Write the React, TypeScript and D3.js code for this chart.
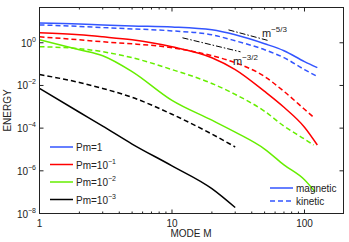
import * as d3 from "d3";

// spectra (mode m, energy)
const modes = [1, 2, 3, 5, 10, 20, 30, 50, 70, 100, 125];
const modesRedKin = [1, 2, 3, 5, 10, 20, 30, 50, 70, 100, 117];
const modesGreen = [1, 2, 3, 5, 10, 20, 30, 50, 70, 100, 120];
const modesGreenKin = [1, 2, 3, 5, 10, 20, 30, 50, 70, 100, 117];
const modesBlack = [1, 2, 3, 5, 10, 20, 30];

const blueMag = [8.5, 7.66, 6.87, 6.18, 5.55, 4.03, 2.36, 0.9, 0.425, 0.131, 0.0687];
const blueKin = [6.87, 5.85, 5.15, 4.48, 3.61, 2.36, 1.24, 0.472, 0.2, 0.0555, 0.0262];
const redMag = [2.92, 2.36, 1.9, 1.38, 0.652, 0.2, 0.0555, 0.00526, 0.00095, 1.11e-4, 1.62e-5];
const redKin = [1.9, 1.38, 1.11, 0.899, 0.585, 0.248, 0.117, 0.0262, 0.00526, 7.65e-4, 3.25e-4];
const greenMag = [1.38, 0.472, 0.248, 0.0448, 0.002, 2.36e-4, 6.5e-5, 1.05e-5, 1.9e-6, 3.8e-7, 1.05e-7];
const greenKin = [0.652, 0.526, 0.381, 0.2, 0.0555, 0.0124, 0.00381, 6.18e-4, 1.24e-4, 3.08e-5, 1.62e-5];
const blackMag = [0.00725, 5.55e-4, 1.24e-4, 1.8e-5, 1.71e-6, 1.46e-7, 1.9e-8];
const blackKin = [0.0325, 0.0138, 0.00725, 0.00277, 4.48e-4, 5.26e-5, 1.31e-5];

// power law guides: [m start, m end, energy at start, exponent]
const guide53 = [26.7, 52.6, 4.03, -5 / 3];
const guide32 = [12, 32.9, 1.71, -3 / 2];

const xMajor = [1, 10, 100];
const yMajor = [1e-8, 1e-6, 1e-4, 1e-2, 1];
const yExp = ["\u22128", "\u22126", "\u22124", "\u22122", "0"];
const legendNames = ["Pm=1", "Pm=10", "Pm=10", "Pm=10"];
const legendSup = ["", "\u22121", "\u22122", "\u22123"];

const BLUE = "#3355ff";
const RED = "#ff0000";
const GREEN = "#66ee00";
const BLACK = "#000000";
const legendColors = [BLUE, RED, GREEN, BLACK];

const font = "Liberation Sans, Arial, Helvetica, sans-serif";

export default function App() {
  const W = 349, H = 242;
  const L = 39.5, R = 343.5, T = 7.5, B = 213.5;

  const x = d3.scaleLog().domain([1, 197]).range([L, R]);
  const y = d3.scaleLog().domain([1e-8, 45]).range([B, T]);

  const line = (ms: number[], es: number[]) =>
    d3
      .line<number>()
      .x((_, i) => x(ms[i]))
      .y((e) => y(e))
      .curve(d3.curveMonotoneX)(es) || "";

  const guide = (g: number[]) => {
    const [m0, m1, e0, p] = g;
    return `M${x(m0)},${y(e0)}L${x(m1)},${y(e0 * Math.pow(m1 / m0, p))}`;
  };

  const xMinor: number[] = [];
  for (const dec of [1, 10, 100]) {
    for (let k = 2; k <= 9; k++) if (dec * k < 197) xMinor.push(dec * k);
  }

  const series = [
    { ms: modes, es: blueMag, c: BLUE, dash: "" },
    { ms: modes, es: blueKin, c: BLUE, dash: "5,3" },
    { ms: modes, es: redMag, c: RED, dash: "" },
    { ms: modesRedKin, es: redKin, c: RED, dash: "5,3" },
    { ms: modesGreen, es: greenMag, c: GREEN, dash: "" },
    { ms: modesGreenKin, es: greenKin, c: GREEN, dash: "5,3" },
    { ms: modesBlack, es: blackMag, c: BLACK, dash: "" },
    { ms: modesBlack, es: blackKin, c: BLACK, dash: "5,3" },
  ];

  const tickColor = "#222";

  return (
    <svg
      width={W}
      height={H}
      style={{ position: "absolute", left: 0, top: 0, background: "#fff" }}
      fontFamily={font}
    >
      <rect width={W} height={H} fill="#fff" />

      {series.map((s, i) => (
        <path
          key={i}
          d={line(s.ms, s.es)}
          fill="none"
          stroke={s.c}
          strokeWidth={1.5}
          strokeDasharray={s.dash || undefined}
        />
      ))}

      <path d={guide(guide53)} stroke="#000" strokeWidth={1} strokeDasharray="6,2,1.5,2" fill="none" />
      <path d={guide(guide32)} stroke="#000" strokeWidth={1} strokeDasharray="6,2,1.5,2" fill="none" />
      <text x={262} y={37} fontSize={11} fill="#222">
        m<tspan dy={-5} fontSize={8}>{"\u22125/3"}</tspan>
      </text>
      <text x={233} y={65} fontSize={11} fill="#222">
        m<tspan dy={-5} fontSize={8}>{"\u22123/2"}</tspan>
      </text>

      {/* frame */}
      <rect x={L} y={T} width={R - L} height={B - T} fill="none" stroke={tickColor} strokeWidth={1} />

      {/* x ticks */}
      {xMajor.map((v) => (
        <g key={"xM" + v}>
          <line x1={x(v)} x2={x(v)} y1={B} y2={B - 4} stroke={tickColor} />
          <line x1={x(v)} x2={x(v)} y1={T} y2={T + 4} stroke={tickColor} />
          <text x={x(v)} y={227} fontSize={10} textAnchor="middle" fill="#222">
            {v}
          </text>
        </g>
      ))}
      {xMinor.map((v) => (
        <g key={"xm" + v}>
          <line x1={x(v)} x2={x(v)} y1={B} y2={B - 2} stroke={tickColor} />
          <line x1={x(v)} x2={x(v)} y1={T} y2={T + 2} stroke={tickColor} />
        </g>
      ))}

      {/* y ticks */}
      {yMajor.map((v, i) => (
        <g key={"yM" + v}>
          <line x1={L} x2={L + 4} y1={y(v)} y2={y(v)} stroke={tickColor} />
          <line x1={R} x2={R - 4} y1={y(v)} y2={y(v)} stroke={tickColor} />
          <text x={36} y={y(v) + 4} fontSize={10} textAnchor="end" fill="#222">
            10<tspan dy={-5} fontSize={7}>{yExp[i]}</tspan>
          </text>
        </g>
      ))}

      <text x={191} y={237} fontSize={10} textAnchor="middle" fill="#222">
        MODE M
      </text>
      <text
        transform={`translate(11,${(T + B) / 2}) rotate(-90)`}
        fontSize={10}
        textAnchor="middle"
        fill="#222"
      >
        ENERGY
      </text>

      {/* legend Pm */}
      {legendNames.map((n, i) => (
        <g key={"lg" + i}>
          <line x1={50} x2={73} y1={147 + i * 17.5} y2={147 + i * 17.5} stroke={legendColors[i]} strokeWidth={1.5} />
          <text x={76} y={151 + i * 17.5} fontSize={10} fill="#222">
            {n}
            {legendSup[i] && <tspan dy={-5} fontSize={7}>{legendSup[i]}</tspan>}
          </text>
        </g>
      ))}

      {/* legend magnetic / kinetic */}
      <line x1={270} x2={293} y1={188} y2={188} stroke={BLUE} strokeWidth={1.5} />
      <text x={296} y={192} fontSize={10} fill="#222">magnetic</text>
      <line x1={270} x2={293} y1={201} y2={201} stroke={BLUE} strokeWidth={1.5} strokeDasharray="5,3" />
      <text x={296} y={205} fontSize={10} fill="#222">kinetic</text>
    </svg>
  );
}
